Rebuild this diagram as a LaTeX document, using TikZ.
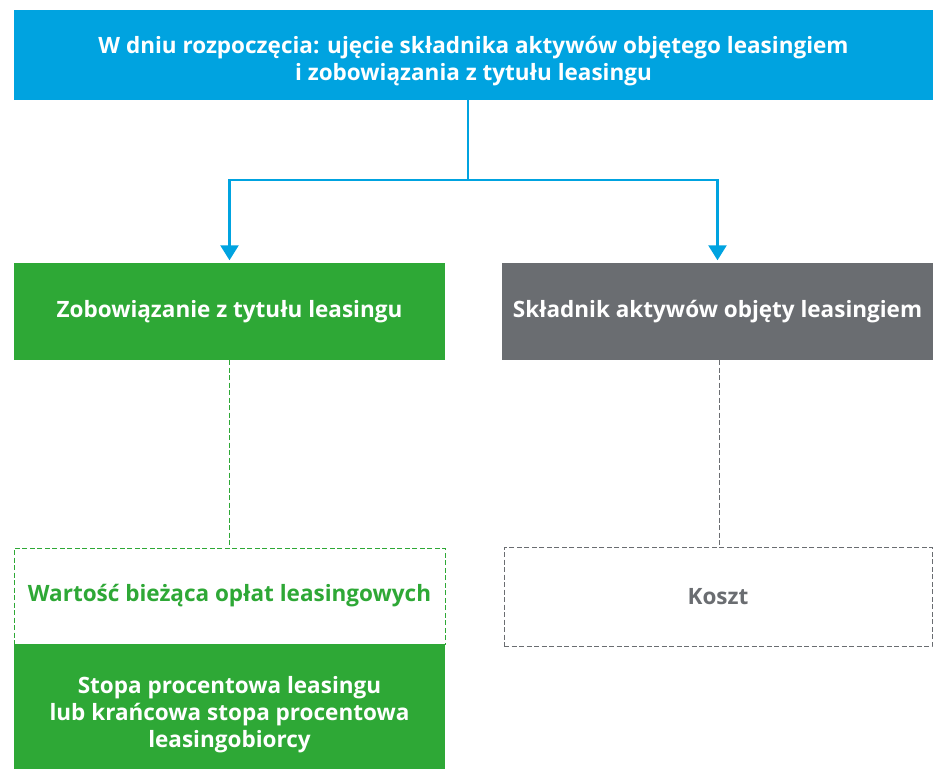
\documentclass[tikz,border=0pt]{standalone}
\usepackage{fontspec}
\setmainfont{Open Sans}
\usetikzlibrary{arrows.meta,positioning,calc}
\definecolor{lsblue}{RGB}{0,163,224}
\definecolor{lsgreen}{RGB}{46,168,54}
\definecolor{lsgray}{RGB}{106,109,113}

\begin{document}
\begin{tikzpicture}[x=1pt, y=-1pt,
  font=\fontsize{22.5}{26.8}\selectfont\bfseries,
  k/.style={inner sep=0pt, align=center, anchor=center,
            minimum width=431pt, text=white},
  khead/.style={k, fill=lsblue, minimum width=919pt, minimum height=90pt},
  kgreen/.style={k, fill=lsgreen, minimum height=97pt},
  kgray/.style={k, fill=lsgray, minimum height=97pt},
  kdash/.style={k, draw, dashed, line width=0.9pt,
                dash pattern=on 5pt off 2.5pt, fill=white},
  ow/.style={-{Triangle[width=18pt,length=15pt]}, line width=2.4pt, lsblue,
             shorten >=2.5pt},
  dl/.style={line width=0.9pt, dash pattern=on 5pt off 2.5pt}]
\useasboundingbox (0,0) rectangle (938,769);
\node[khead] (start) at (473.5,55)
  {\rule{0pt}{30pt}W dniu rozpoczęcia: ujęcie składnika aktywów objętego leasingiem\\
   i zobowiązania z tytułu leasingu};
\node[kgreen] (liab)  at (229.5,311.5) {Zobowiązanie z tytułu leasingu};
\node[kgray]  (asset) at (717.5,311.5) {Składnik aktywów objęty leasingiem};
\node[kdash, draw=lsgreen, text=lsgreen, minimum height=96pt] (pv) at (229.5,596)
  {Wartość bieżąca opłat leasingowych};
\node[kdash, draw=lsgray, text=lsgray, minimum width=428pt,
      minimum height=99pt] (cost) at (718,596.5) {Koszt};
\node[kgreen, minimum height=136pt, text depth=0pt] (rate) at (229.5,712)
  {Stopa procentowa leasingu\\
   lub krańcowa stopa procentowa\\
   leasingobiorcy};
\coordinate (split) at (468,180);
\draw[ow, -, line cap=rect] (start.south -| split) -- (split);
\draw[ow] (split) -| (liab.north);
\draw[ow] (split) -| (asset.north);
\draw[dl, lsgreen] (liab.south) -- (pv.north);
\draw[dl, lsgray] ([xshift=2pt]asset.south) -- ([xshift=2pt]asset.south |- cost.north);
\end{tikzpicture}
\end{document}
